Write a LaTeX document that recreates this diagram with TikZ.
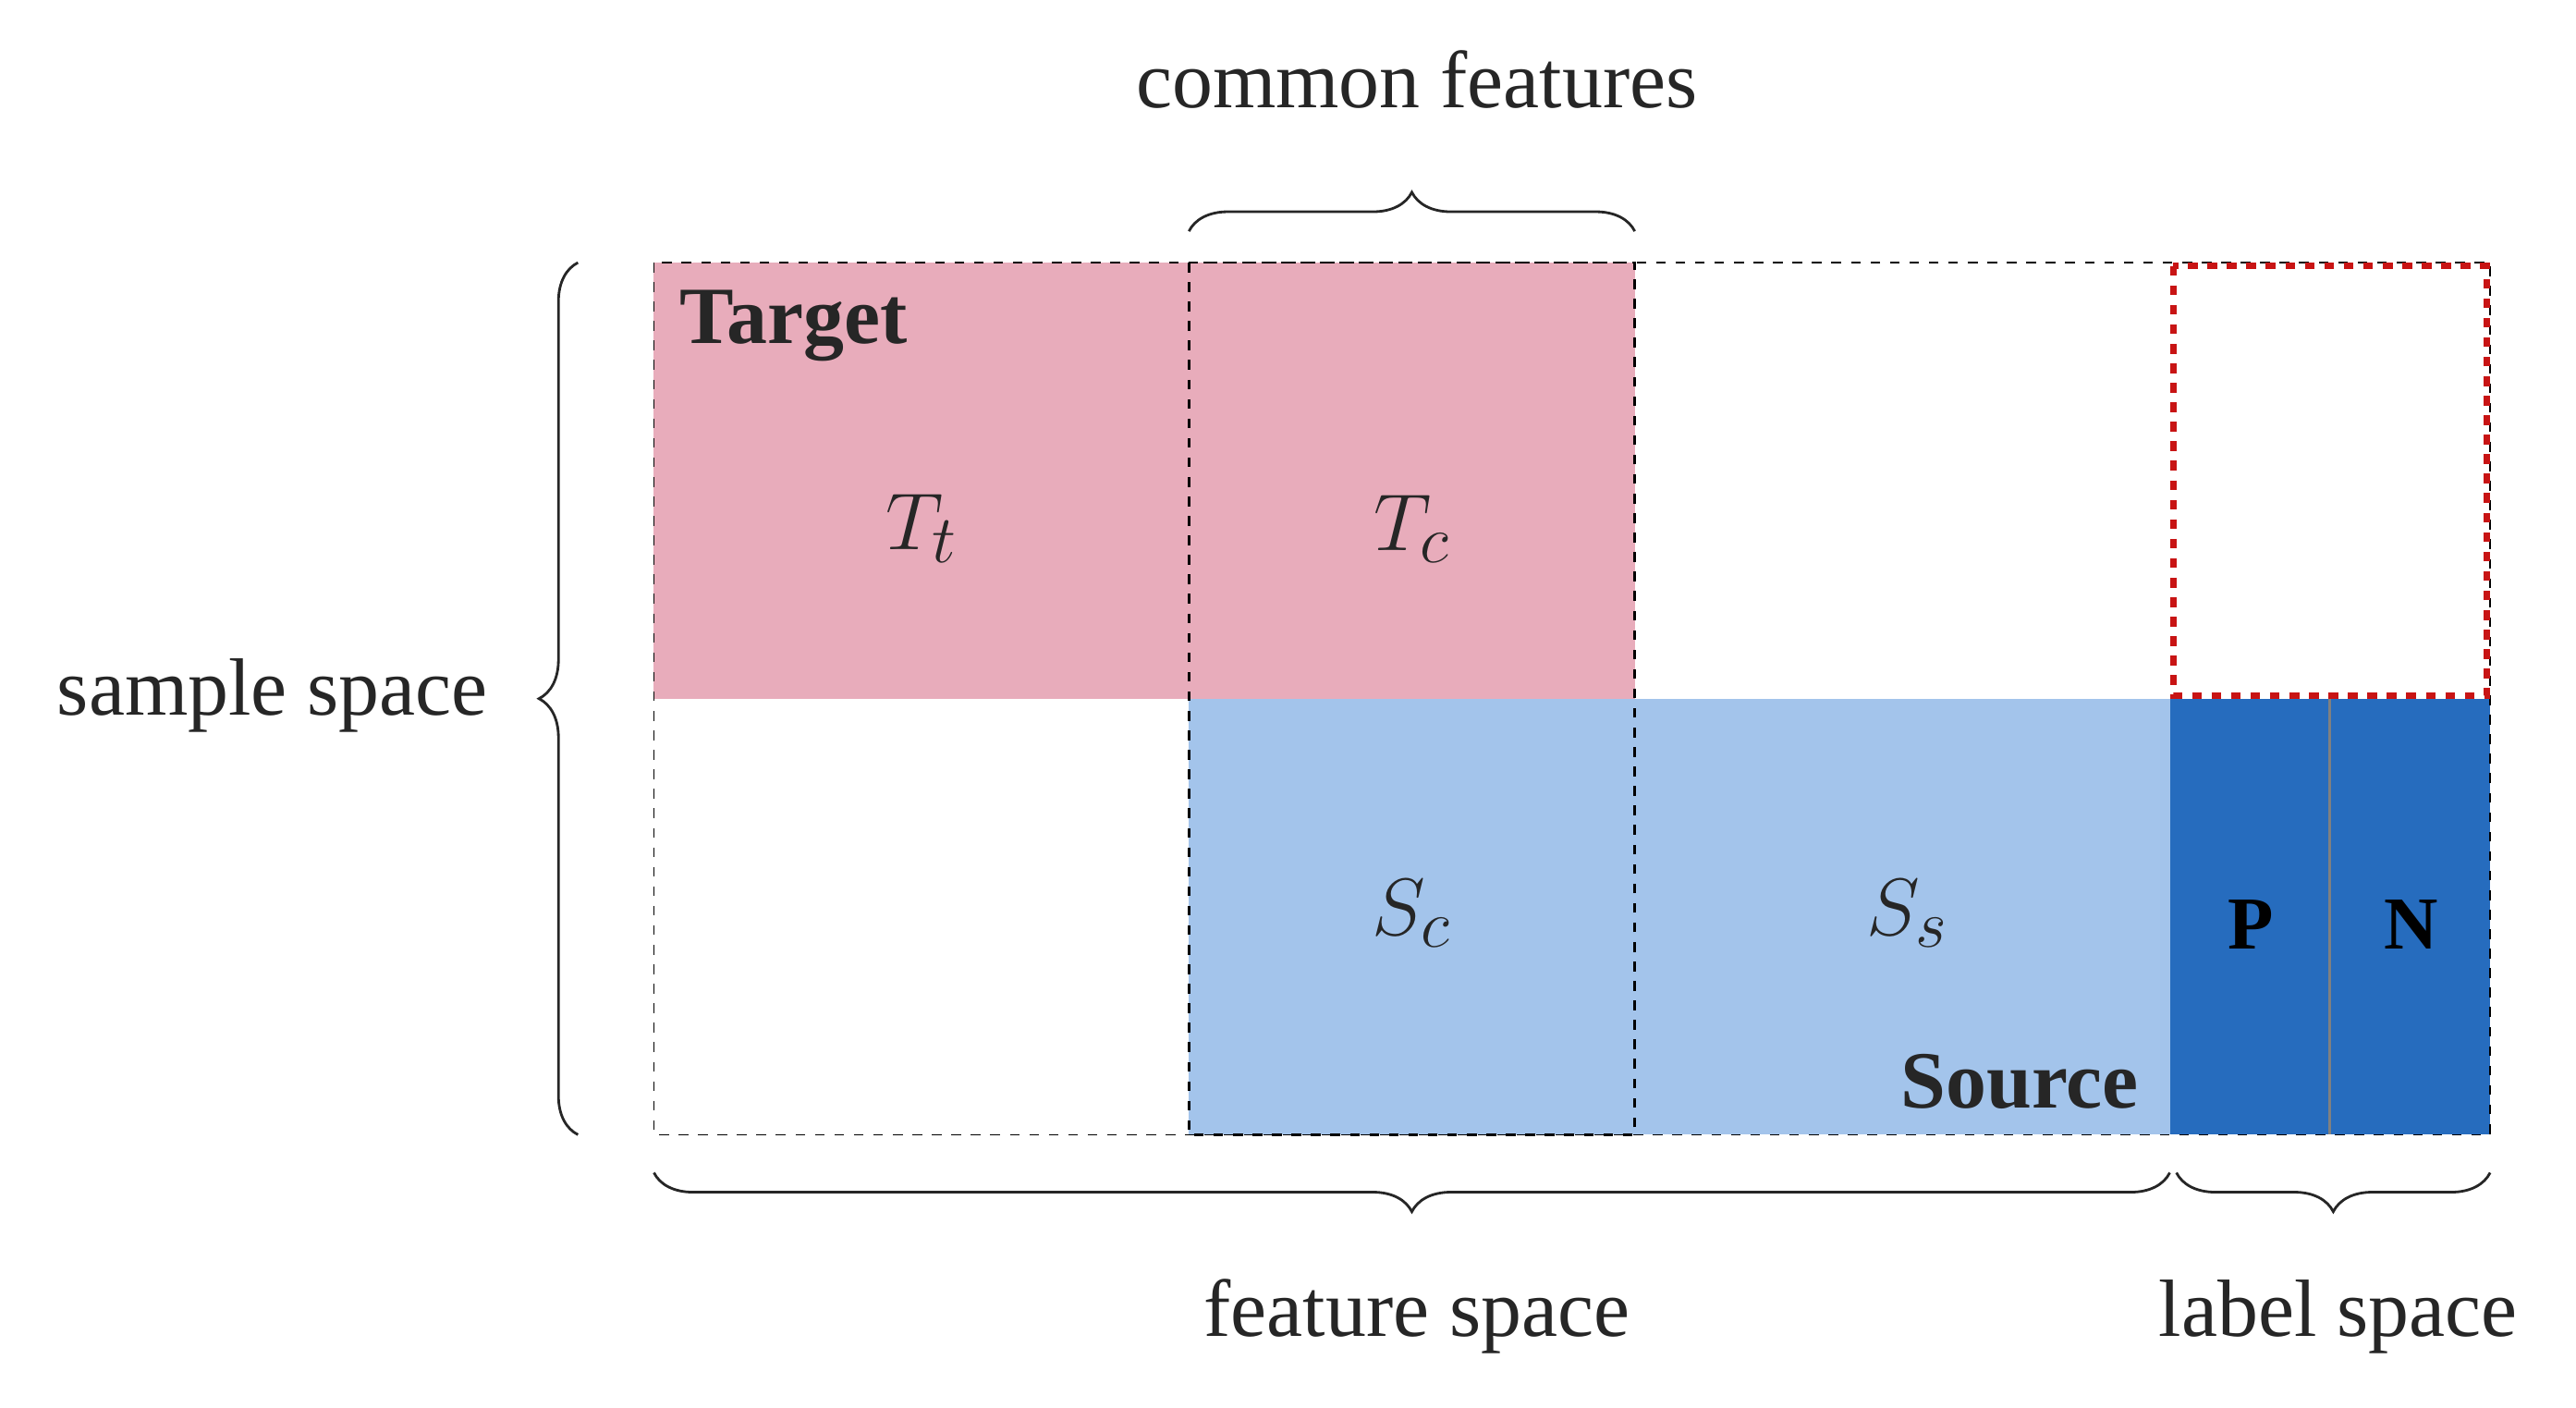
\documentclass[tikz,border=0pt]{standalone}
\usepackage{fontspec}
\setmainfont{Liberation Serif}
\usetikzlibrary{decorations.pathreplacing}
\definecolor{tpink}{RGB}{232,172,187}
\definecolor{sblue}{RGB}{163,196,235}
\definecolor{pblue}{RGB}{38,108,190}
\definecolor{dred}{RGB}{200,20,20}
\tikzset{
  lbl/.style={font=\fontsize{25}{28}\selectfont, text=black!85},
  sym/.style={font=\fontsize{30}{34}\selectfont, text=black!85},
  brc/.style={decorate, decoration={brace, amplitude=12pt}, thick, black!85},
}
\begin{document}
\begin{tikzpicture}[x=0.01787cm, y=-0.01787cm]
    \useasboundingbox (0,0) rectangle (1560,852);
    % fills
    \fill[tpink] (396,159) rectangle (990,423);
    \fill[sblue] (720,423) rectangle (1314,687);
    \fill[pblue] (1314,423) rectangle (1508,687);
    \draw[gray, thick] (1411,423) -- (1411,687);
    % outlines
    \draw[dashed, thin] (396,159) rectangle (1508,687);
    \draw[dashed, thick] (720,159) rectangle (990,687);
    \draw[dashed, dred, line width=2pt] (1316,161) rectangle (1506,421);
    % cell labels
    \node[sym] (Tt) at (558,320) {$T_t$};
    \node[sym] (Tc) at (855,320) {$T_c$};
    \node[sym] (Sc) at (855,553) {$S_c$};
    \node[sym] (Ss) at (1155,553) {$S_s$};
    \node[lbl, font=\fontsize{25}{28}\selectfont\bfseries, anchor=west] (tgt) at (405,197) {Target};
    \node[lbl, font=\fontsize{25}{28}\selectfont\bfseries, anchor=east] (src) at (1302,655) {Source};
    \node[lbl, font=\fontsize{23}{26}\selectfont\bfseries, text=black] (P) at (1363,560) {P};
    \node[lbl, font=\fontsize{23}{26}\selectfont\bfseries, text=black] (N) at (1460,560) {N};
    % braces
    \draw[brc] (720,140) -- (990,140);
    \draw[brc] (350,687) -- (350,159);
    \draw[brc] (1314,710) -- (396,710);
    \draw[brc] (1508,710) -- (1318,710);
    \node[lbl] (cf) at (858,48) {common features};
    \node[lbl] (ss) at (165,421) {sample space};
    \node[lbl] (fs) at (858,797) {feature space};
    \node[lbl] (ls) at (1416,797) {label space};
\end{tikzpicture}
\end{document}
